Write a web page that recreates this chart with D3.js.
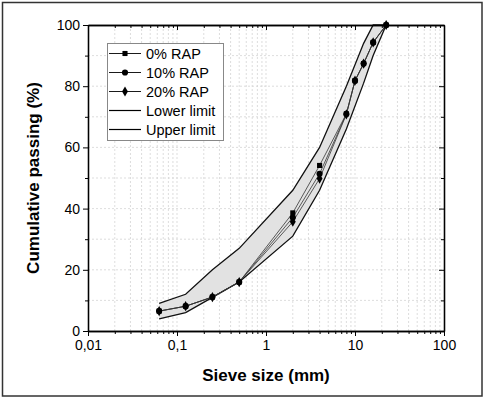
<!DOCTYPE html>
<html>
<head>
<meta charset="utf-8">
<script src="https://cdn.jsdelivr.net/npm/d3@7"></script>
<style>
  body { margin: 0; background: #fff; }
  svg text { font-family: Arial, "Liberation Sans", sans-serif; fill: #000; }
</style>
</head>
<body>
<div id="graph"></div>
<script>
// Sieve sizes (mm)
let sieves = [0.063, 0.125, 0.25, 0.5, 2, 4, 8, 10, 12.5, 16, 22.4];
let rap0 = [6.5, 8.1, 11.1, 16.0, 38.6, 54.1, 71.0, 81.8, 87.4, 94.3, 100];
let rap10 = [6.5, 8.1, 11.1, 16.0, 37.1, 51.4, 70.9, 81.8, 87.4, 94.3, 100];
let rap20 = [6.5, 8.1, 11.1, 16.0, 35.7, 49.8, 70.8, 81.8, 87.4, 94.3, 100];

// Grading envelope
let limitSieves = [0.063, 0.125, 0.25, 0.5, 2, 4, 8, 12.5, 16, 22.4];
let lowerLimit = [4, 6, 11, 16, 31, 46, 66, 81, 90, 100];
let upperLimit = [9, 12, 20, 27, 46, 60, 80, 94, 100, 100];

let xTicks = [0.01, 0.1, 1, 10, 100];
let xTickLabels = ["0,01", "0,1", "1", "10", "100"];
let yTicks = [0, 20, 40, 60, 80, 100];

let seriesNames = ["0% RAP", "10% RAP", "20% RAP"];
let limitNames = ["Lower limit", "Upper limit"];

let width = 485;
let height = 400;
let plotLeft = 88, plotRight = 444, plotTop = 25, plotBottom = 331;

let svg = d3.select("#graph")
    .append("svg")
    .attr("width", width)
    .attr("height", height);

// Frame round the figure
svg.append("rect")
    .attr("x", 2.5).attr("y", 2.5)
    .attr("width", 479.5).attr("height", 393.5)
    .attr("fill", "none")
    .attr("stroke", "#333")
    .attr("stroke-width", 1.5);

let xScale = d3.scaleLog().domain([0.01, 100]).range([plotLeft, plotRight]);
let yScale = d3.scaleLinear().domain([0, 100]).range([plotBottom, plotTop]);

// Minor log ticks
let xMinor = [];
for (let d = 0.01; d < 100; d *= 10) {
    for (let k = 2; k <= 9; k++) xMinor.push(+(d * k).toPrecision(3));
}
let yMinor = d3.range(10, 100, 20);

// Grid
let grid = svg.append("g").attr("stroke", "#d4d4d4").attr("stroke-width", 0.8)
    .attr("stroke-dasharray", "2,2");
grid.selectAll(".gx")
    .data(xMinor.concat([0.1, 1, 10]))
    .join("line")
    .attr("x1", d => xScale(d)).attr("x2", d => xScale(d))
    .attr("y1", plotTop).attr("y2", plotBottom);
grid.selectAll(".gy")
    .data(d3.range(10, 100, 10))
    .join("line")
    .attr("x1", plotLeft).attr("x2", plotRight)
    .attr("y1", d => yScale(d)).attr("y2", d => yScale(d));

// Envelope
let limits = limitSieves.map((s, i) => ({ s: s, lo: lowerLimit[i], up: upperLimit[i] }));
let area = d3.area()
    .x(d => xScale(d.s))
    .y0(d => yScale(d.lo))
    .y1(d => yScale(d.up));
svg.append("path")
    .datum(limits)
    .attr("d", area)
    .attr("fill", "#e2e2e2");

let limitLine = d3.line().x(d => xScale(d[0])).y(d => yScale(d[1]));
[lowerLimit, upperLimit].forEach(vals => {
    svg.append("path")
        .datum(limitSieves.map((s, i) => [s, vals[i]]))
        .attr("d", limitLine)
        .attr("fill", "none")
        .attr("stroke", "#111")
        .attr("stroke-width", 1.3);
});

// Axes
let xAxis = d3.axisBottom(xScale).tickValues(xTicks).tickFormat((d, i) => xTickLabels[i])
    .tickSizeInner(5).tickSizeOuter(0).tickPadding(4);
let xAxisMinor = d3.axisBottom(xScale).tickValues(xMinor).tickFormat("").tickSizeInner(3).tickSizeOuter(0);
let yAxis = d3.axisLeft(yScale).tickValues(yTicks).tickSizeInner(5).tickSizeOuter(0).tickPadding(3);
let yAxisMinor = d3.axisLeft(yScale).tickValues(yMinor).tickFormat("").tickSizeInner(3).tickSizeOuter(0);

function styleAxis(g) {
    g.select(".domain").attr("stroke", "#000").attr("stroke-width", 1.3);
    g.selectAll(".tick line").attr("stroke", "#000").attr("stroke-width", 1);
    g.selectAll(".tick text").attr("font-size", 14).attr("fill", "#000");
}

svg.append("g").attr("transform", "translate(0," + plotBottom + ")").call(xAxis).call(styleAxis);
svg.append("g").attr("transform", "translate(0," + plotBottom + ")").call(xAxisMinor).call(styleAxis);
svg.append("g").attr("transform", "translate(" + plotLeft + ",0)").call(yAxis).call(styleAxis);
svg.append("g").attr("transform", "translate(" + plotLeft + ",0)").call(yAxisMinor).call(styleAxis);

// Mirrored axes, ticks inside
svg.append("g").attr("transform", "translate(0," + plotTop + ")")
    .call(d3.axisBottom(xScale).tickValues(xTicks).tickFormat("").tickSizeInner(5).tickSizeOuter(0)).call(styleAxis);
svg.append("g").attr("transform", "translate(0," + plotTop + ")")
    .call(d3.axisBottom(xScale).tickValues(xMinor).tickFormat("").tickSizeInner(3).tickSizeOuter(0)).call(styleAxis);
svg.append("g").attr("transform", "translate(" + plotRight + ",0)")
    .call(d3.axisLeft(yScale).tickValues(yTicks).tickFormat("").tickSizeInner(5).tickSizeOuter(0)).call(styleAxis);
svg.append("g").attr("transform", "translate(" + plotRight + ",0)")
    .call(d3.axisLeft(yScale).tickValues(yMinor).tickFormat("").tickSizeInner(3).tickSizeOuter(0)).call(styleAxis);

// Axis titles
svg.append("text")
    .attr("x", (plotLeft + plotRight) / 2).attr("y", 381)
    .attr("text-anchor", "middle")
    .attr("font-size", 17).attr("font-weight", "bold")
    .text("Sieve size (mm)");
svg.append("text")
    .attr("transform", "translate(39," + (plotTop + plotBottom) / 2 + ") rotate(-90)")
    .attr("text-anchor", "middle")
    .attr("font-size", 17).attr("font-weight", "bold")
    .text("Cumulative passing (%)");

// Data series
let symbols = [d3.symbolSquare, d3.symbolCircle, d3.symbolDiamond];
let symbolSizes = [26, 30, 30];
let series = [rap0, rap10, rap20];
let dataLine = d3.line().x(d => xScale(d[0])).y(d => yScale(d[1]));

series.forEach((vals, k) => {
    let pts = sieves.map((s, i) => [s, vals[i]]);
    svg.append("path")
        .datum(pts)
        .attr("d", dataLine)
        .attr("fill", "none")
        .attr("stroke", "#333")
        .attr("stroke-width", 0.8);
});
series.forEach((vals, k) => {
    let pts = sieves.map((s, i) => [s, vals[i]]);
    svg.append("g").selectAll("path")
        .data(pts)
        .join("path")
        .attr("transform", d => "translate(" + xScale(d[0]) + "," + yScale(d[1]) + ")")
        .attr("d", d3.symbol().type(symbols[k]).size(symbolSizes[k]))
        .attr("fill", "#000");
});

// Legend
let lg = svg.append("g");
lg.append("rect")
    .attr("x", 107.5).attr("y", 43.5)
    .attr("width", 116).attr("height", 97)
    .attr("fill", "#fff")
    .attr("stroke", "#888")
    .attr("stroke-width", 1);
let legendNames = seriesNames.concat(limitNames);
legendNames.forEach((name, i) => {
    let y = 53.5 + i * 19;
    lg.append("line")
        .attr("x1", 109).attr("x2", 141)
        .attr("y1", y).attr("y2", y)
        .attr("stroke", "#000")
        .attr("stroke-width", i < 3 ? 0.9 : 1.2);
    if (i < 3) {
        lg.append("path")
            .attr("transform", "translate(125," + y + ")")
            .attr("d", d3.symbol().type(symbols[i]).size(symbolSizes[i]))
            .attr("fill", "#000");
    }
    lg.append("text")
        .attr("x", 146).attr("y", y + 5)
        .attr("font-size", 14.5)
        .text(name);
});
</script>
</body>
</html>
